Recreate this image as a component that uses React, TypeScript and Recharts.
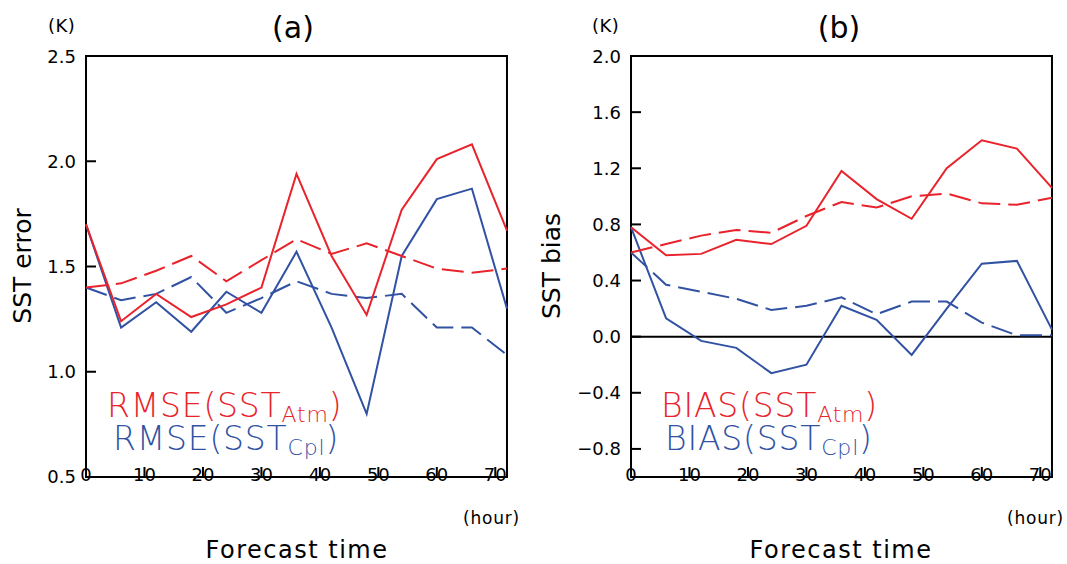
import { LineChart, Line, XAxis, YAxis, ReferenceLine, ReferenceArea } from 'recharts';

const hours = [0, 6, 12, 18, 24, 30, 36, 42, 48, 54, 60, 66, 72];

// (a) SST error (RMSE), solid and dashed experiments
const rmseAtmSolid = [1.70, 1.24, 1.37, 1.26, 1.32, 1.40, 1.94, 1.55, 1.27, 1.77, 2.01, 2.08, 1.67];
const rmseAtmDash = [1.40, 1.42, 1.48, 1.55, 1.43, 1.53, 1.63, 1.56, 1.61, 1.55, 1.49, 1.47, 1.49];
const rmseCplSolid = [1.70, 1.21, 1.33, 1.19, 1.38, 1.28, 1.57, 1.21, 0.80, 1.55, 1.82, 1.87, 1.30];
const rmseCplDash = [1.40, 1.34, 1.37, 1.45, 1.28, 1.35, 1.43, 1.37, 1.35, 1.37, 1.21, 1.21, 1.08];

// (b) SST bias
const biasAtmSolid = [0.78, 0.58, 0.59, 0.69, 0.66, 0.79, 1.18, 0.98, 0.84, 1.20, 1.40, 1.34, 1.06];
const biasAtmDash = [0.60, 0.66, 0.72, 0.76, 0.74, 0.86, 0.96, 0.92, 1.00, 1.02, 0.95, 0.94, 0.99];
const biasCplSolid = [0.78, 0.13, -0.03, -0.08, -0.26, -0.20, 0.22, 0.12, -0.13, 0.20, 0.52, 0.54, 0.05];
const biasCplDash = [0.60, 0.37, 0.32, 0.27, 0.19, 0.22, 0.28, 0.16, 0.25, 0.25, 0.10, 0.01, 0.01];

// ticks (major + minor)
const xTicks = [0, 5, 10, 15, 20, 25, 30, 35, 40, 45, 50, 55, 60, 65, 70];
const yTicksA = [0.5, 0.6, 0.7, 0.8, 0.9, 1.0, 1.1, 1.2, 1.3, 1.4, 1.5, 1.6, 1.7, 1.8, 1.9, 2.0, 2.1, 2.2, 2.3, 2.4, 2.5];
const yTicksB = [-1.0, -0.8, -0.6, -0.4, -0.2, 0.0, 0.2, 0.4, 0.6, 0.8, 1.0, 1.2, 1.4, 1.6, 1.8, 2.0];

const RED = '#e8232b';
const BLUE = '#3152a3';
const FONT = '"DejaVu Sans", sans-serif';

const dataA = hours.map((t, i) => ({
  t,
  atmS: rmseAtmSolid[i],
  atmD: rmseAtmDash[i],
  cplS: rmseCplSolid[i],
  cplD: rmseCplDash[i],
}));

const dataB = hours.map((t, i) => ({
  t,
  atmS: biasAtmSolid[i],
  atmD: biasAtmDash[i],
  cplS: biasCplSolid[i],
  cplD: biasCplDash[i],
}));

const near = (v: number, step: number) => Math.abs(v / step - Math.round(v / step)) < 1e-6;
const fmtY = (v: number) => (v < 0 ? '\u2212' : '') + Math.abs(v).toFixed(1);

// mirrored axes draw inward tick lines; labels come from the outer axes
const yLabel = (step: number) => (props: any) => {
  const { x, y, payload } = props;
  if (!near(payload.value, step)) return <g />;
  return (
    <text x={x} y={y + 6.5} textAnchor="end" fontSize={18} fontFamily={FONT} fill="#000">
      {fmtY(payload.value)}
    </text>
  );
};

const xLabel = (props: any) => {
  const { x, y, payload } = props;
  if (!near(payload.value, 10)) return <g />;
  return (
    <text x={x} y={y + 14.5} textAnchor="middle" fontSize={18} fontFamily={FONT} fill="#000">
      {payload.value}
    </text>
  );
};

const majorY = (step: number) => (v: number) => near(v, step);

type PanelProps = {
  data: any[];
  left: number;
  width: number;
  yAxisWidth: number;
  marginRight: number;
  yDomain: [number, number];
  yTicks: number[];
  yStep: number;
  zeroLine?: boolean;
};

function Panel({ data, left, width, yAxisWidth, marginRight, yDomain, yTicks, yStep, zeroLine }: PanelProps) {
  const isMajorY = majorY(yStep);
  const xMajor = xTicks.filter((v) => near(v, 10));
  const xMinor = xTicks.filter((v) => !near(v, 10));
  const yMajor = yTicks.filter(isMajorY);
  const yMinor = yTicks.filter((v) => !isMajorY(v));
  const tickLine = { stroke: '#000', strokeWidth: 2 };
  return (
    <div style={{ position: 'absolute', left, top: 0 }}>
      <LineChart width={width} height={564} data={data} margin={{ top: 56, right: marginRight, bottom: 0, left: 0 }}>
        {/* labels + major inward ticks (bottom / left) */}
        <XAxis xAxisId="b" dataKey="t" type="number" domain={[0, 72]} ticks={xMajor} interval={0} height={87}
          tickSize={-10} tickMargin={0} tick={xLabel} tickLine={tickLine} axisLine={false} />
        <XAxis xAxisId="bm" dataKey="t" type="number" domain={[0, 72]} ticks={xMinor} interval={0} height={0.01}
          tickSize={-5} tick={false} tickLine={tickLine} axisLine={false} />
        <XAxis xAxisId="t" orientation="top" dataKey="t" type="number" domain={[0, 72]} ticks={xMajor} interval={0} height={0.01}
          tickSize={-10} tick={false} tickLine={tickLine} axisLine={false} />
        <XAxis xAxisId="tm" orientation="top" dataKey="t" type="number" domain={[0, 72]} ticks={xMinor} interval={0} height={0.01}
          tickSize={-5} tick={false} tickLine={tickLine} axisLine={false} />
        <YAxis yAxisId="l" type="number" domain={yDomain} ticks={yMajor} interval={0} width={yAxisWidth}
          tickSize={-10} tickMargin={20} tick={yLabel(yStep)} tickLine={tickLine} axisLine={false} />
        <YAxis yAxisId="lm" type="number" domain={yDomain} ticks={yMinor} interval={0} width={0.01}
          tickSize={-6} tick={false} tickLine={tickLine} axisLine={false} />
        <YAxis yAxisId="r" orientation="right" type="number" domain={yDomain} ticks={yMajor} interval={0} width={0.01}
          tickSize={-10} tick={false} tickLine={tickLine} axisLine={false} />
        <YAxis yAxisId="rm" orientation="right" type="number" domain={yDomain} ticks={yMinor} interval={0} width={0.01}
          tickSize={-6} tick={false} tickLine={tickLine} axisLine={false} />
        <ReferenceArea
          xAxisId="b"
          yAxisId="l"
          x1={0}
          x2={72}
          y1={yDomain[0]}
          y2={yDomain[1]}
          fill="none"
          fillOpacity={0}
          stroke="#000"
          strokeWidth={2}
          strokeOpacity={1}
          ifOverflow="visible"
        />
        {zeroLine && <ReferenceLine xAxisId="b" yAxisId="l" y={0} stroke="#000" strokeWidth={2} />}
        <Line xAxisId="b" yAxisId="l" type="linear" dataKey="cplD" stroke={BLUE} strokeWidth={2} strokeDasharray="22 8" dot={false} isAnimationActive={false} />
        <Line xAxisId="b" yAxisId="l" type="linear" dataKey="cplS" stroke={BLUE} strokeWidth={2} dot={false} isAnimationActive={false} />
        <Line xAxisId="b" yAxisId="l" type="linear" dataKey="atmD" stroke={RED} strokeWidth={2} strokeDasharray="22 8" dot={false} isAnimationActive={false} />
        <Line xAxisId="b" yAxisId="l" type="linear" dataKey="atmS" stroke={RED} strokeWidth={2} dot={false} isAnimationActive={false} />
      </LineChart>
    </div>
  );
}

function LegendText({ x, y, prefix, sub, color }: { x: number; y: number; prefix: string; sub: string; color: string }) {
  return (
    <text x={x} y={y} fill={color} fontFamily={FONT} fontSize={33} fontWeight={200} letterSpacing={0.8}>
      {prefix}(SST
      <tspan fontSize={22} dy={5}>{sub}</tspan>
      <tspan dy={-5}>)</tspan>
    </text>
  );
}

export default function App() {
  return (
    <div style={{ position: 'absolute', left: 0, top: 0, width: 1067, height: 564 }}>
      <Panel data={dataA} left={0} width={540} yAxisWidth={86} marginRight={33} yDomain={[0.5, 2.5]} yTicks={yTicksA} yStep={0.5} />
      <Panel data={dataB} left={540} width={527} yAxisWidth={91} marginRight={15} yDomain={[-1, 2]} yTicks={yTicksB} yStep={0.4} zeroLine />
      <svg width={1067} height={564} style={{ position: 'absolute', left: 0, top: 0, pointerEvents: 'none' }}>
        <g fontFamily={FONT} fill="#000">
          <text x={293} y={38} fontSize={30} textAnchor="middle">(a)</text>
          <text x={839} y={38} fontSize={30} textAnchor="middle">(b)</text>
          <text x={48} y={32} fontSize={18} letterSpacing={0.5}>(K)</text>
          <text x={592} y={32} fontSize={18} letterSpacing={0.5}>(K)</text>
          <text x={463} y={524} fontSize={17} letterSpacing={0.8}>(hour)</text>
          <text x={1007} y={524} fontSize={17} letterSpacing={0.8}>(hour)</text>
          <text x={297} y={558} fontSize={24} letterSpacing={1.5} textAnchor="middle">Forecast time</text>
          <text x={841} y={558} fontSize={24} letterSpacing={1.5} textAnchor="middle">Forecast time</text>
          <text transform="translate(31,266) rotate(-90)" fontSize={25} textAnchor="middle">SST error</text>
          <text transform="translate(560,266) rotate(-90)" fontSize={25} textAnchor="middle">SST bias</text>
        </g>
        <LegendText x={107} y={417} prefix="RMSE" sub="Atm" color={RED} />
        <LegendText x={113} y={450} prefix="RMSE" sub="Cpl" color={BLUE} />
        <LegendText x={661} y={417} prefix="BIAS" sub="Atm" color={RED} />
        <LegendText x={665} y={450} prefix="BIAS" sub="Cpl" color={BLUE} />
      </svg>
    </div>
  );
}
